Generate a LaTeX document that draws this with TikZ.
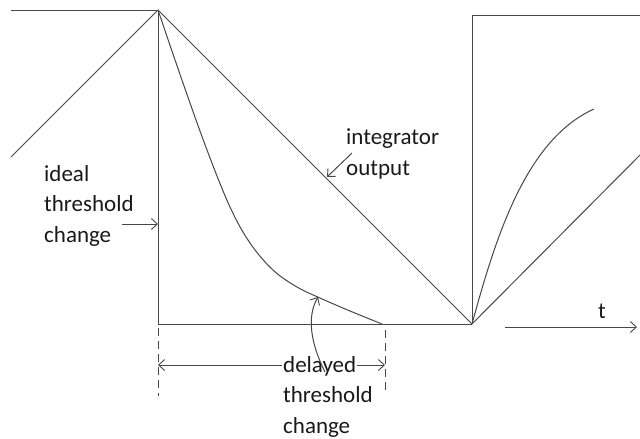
\documentclass[tikz,border=0pt]{standalone}
\usepackage{fontspec}
\setmainfont{Carlito}
\usetikzlibrary{arrows.meta,calc}
\tikzset{
  ln/.style={line width=1pt, draw=black!72},
  tip/.style={ln, -{Straight Barb[length=6pt,width=11pt,line width=0.9pt]}},
  dsh/.style={ln, dash pattern=on 8pt off 5pt},
  lbl/.style={inner sep=0pt, anchor=base west, align=left, text=black!90,
    font=\fontsize{23}{30.5}\selectfont},
}
\begin{document}
\begin{tikzpicture}[x=1pt,y=-1pt]
\useasboundingbox (0,0) rectangle (640,439);
% key points
\coordinate (A0) at (11,10);
\coordinate (A1) at (11,157);
\coordinate (P) at (158,10);
\coordinate (B) at (158,324);
\coordinate (C) at (472,324);
\coordinate (D) at (382,324);
\coordinate (E) at (472,15);
\coordinate (E1) at (640,15);
\coordinate (F) at (640,155);
\coordinate (G) at (594,109);
% waveforms
\draw[ln] (A0) -- (P);
\draw[ln] (A1) -- (P);
\draw[ln] (P) -- (B) -- (C);
\draw[ln] (P) -- (C);
\draw[ln] plot[smooth, tension=0.6] coordinates {(158,10) (183,83) (207,150) (230,207) (250,243) (273,270) (297,287) (320,298) (350,311) (382,324)};
\draw[ln] (C) -- (E) -- (E1);
\draw[ln] (C) -- (F);
\draw[ln] (C) .. controls (495,240) and (525,140) .. (G);
% time axis
\coordinate (t0) at (505,327);
\coordinate (t1) at (637,327);
\draw[tip] (t0) -- (t1);
\node[lbl] (tl) at (598,318) {t};
% ideal threshold change
\node[lbl] (ideal) at (44,242) {ideal\\threshold\\change};
\coordinate (i0) at (122,224);
\coordinate (i1) at (158,224);
\draw[tip] (i0) -- (i1);
% integrator output
\node[lbl] (integ) at (346,175) {integrator\\output};
\coordinate (o0) at (352,153);
\coordinate (o1) at (327,177);
\draw[tip] (o0) -- (o1);
% delayed threshold change
\draw[dsh] (158,328) -- (158,396);
\draw[dsh] (385,330) -- (385,393);
\coordinate (dimL) at (158,365);
\coordinate (dimR) at (385,365);
\node[lbl] (del1) at (283,372) {delayed};
\node[lbl] (del2) at (283,433) {threshold\\change};
\draw[ln, {Straight Barb[length=6pt,width=11pt,line width=0.9pt]}-] (dimL) -- ([xshift=-1pt]dimL -| del1.west);
\draw[tip] ([xshift=1pt]del1.east |- dimR) -- (dimR);
\coordinate (c0) at (325,372);
\coordinate (c1) at (318,297);
\draw[tip] (c0) .. controls (310,342) and (307,316) .. (c1);
\end{tikzpicture}
\end{document}
